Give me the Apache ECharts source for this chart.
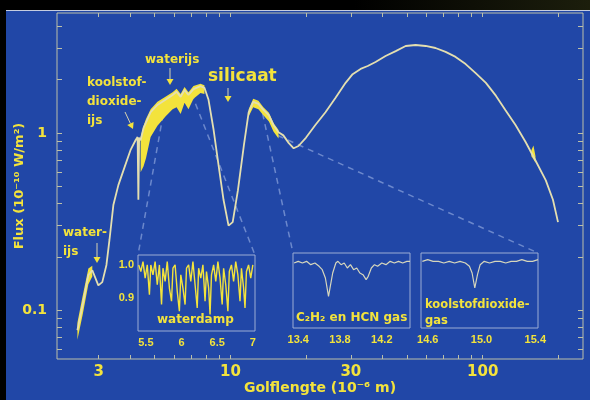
<!DOCTYPE html>
<html>
<head>
<meta charset="utf-8">
<script src="https://cdn.jsdelivr.net/npm/echarts@6/dist/echarts.min.js"></script>
<style>
html, body { margin: 0; padding: 0; background: #000; }
#chart { width: 590px; height: 400px; }
</style>
</head>
<body>
<div id="chart"></div>
<script>
// ---------------------------------------------------------------
// Data
// ---------------------------------------------------------------

// main spectrum: wavelength (micron) and flux (1e-10 W/m2)
var wavelength = [2.47, 2.59, 2.73, 2.83, 2.99, 3.10, 3.22, 3.31, 3.43, 3.59,
  3.80, 4.01, 4.20, 4.28, 4.31, 4.34, 4.40, 4.52, 4.82, 5.13,
  5.52, 5.89, 6.11, 6.34, 6.57, 6.81, 7.13, 7.60, 7.88, 8.18,
  8.57, 8.96, 9.38, 9.82, 10.2, 10.7, 11.3, 11.8, 12.3, 12.9,
  13.5, 14.2, 14.8, 15.5, 16.2, 17.0, 17.8, 18.6, 19.9, 21.7,
  23.8, 26.1, 28.6, 30.5, 32.8, 35.0, 37.6, 41.2, 45.2, 49.5,
  54.2, 59.4, 65.0, 71.3, 78.1, 85.6, 93.8, 103, 113, 123,
  135, 148, 162, 178, 190, 199];
var flux = [0.077, 0.107, 0.158, 0.168, 0.138, 0.144, 0.180, 0.249, 0.392, 0.508,
  0.642, 0.80, 0.91, 0.95, 0.42, 0.94, 0.91, 1.07, 1.31, 1.44,
  1.54, 1.64, 1.71, 1.60, 1.75, 1.64, 1.77, 1.84, 1.80, 1.54,
  1.04, 0.66, 0.42, 0.30, 0.314, 0.476, 0.855, 1.31, 1.50, 1.46,
  1.35, 1.26, 1.11, 1.01, 0.97, 0.88, 0.82, 0.845, 0.94, 1.11,
  1.31, 1.58, 1.92, 2.15, 2.30, 2.39, 2.52, 2.72, 2.90, 3.10,
  3.14, 3.10, 3.02, 2.87, 2.69, 2.45, 2.18, 1.92, 1.62, 1.35,
  1.11, 0.89, 0.70, 0.54, 0.42, 0.314];

// noisy yellow parts of the spectrum (upper / lower edge)
var noiseStartX = [2.47, 2.59, 2.73, 2.83];
var noiseStartHi = [0.085, 0.12, 0.172, 0.178];
var noiseStartLo = [0.068, 0.094, 0.14, 0.155];

var noiseIceX = [4.40, 4.52, 4.62, 4.82, 5.13, 5.52, 5.89, 6.11, 6.34, 6.57, 6.81, 7.13, 7.60, 7.88];
var noiseIceHi = [0.95, 1.10, 1.20, 1.36, 1.50, 1.60, 1.70, 1.78, 1.66, 1.82, 1.70, 1.84, 1.90, 1.86];
var noiseIceLo = [0.60, 0.65, 0.72, 0.95, 1.10, 1.24, 1.36, 1.40, 1.28, 1.48, 1.36, 1.56, 1.68, 1.66];

var noiseSilX = [11.8, 12.3, 12.9, 13.5, 14.2, 14.8, 15.5];
var noiseSilHi = [1.36, 1.56, 1.52, 1.40, 1.30, 1.14, 1.04];
var noiseSilLo = [1.24, 1.40, 1.36, 1.26, 1.16, 1.02, 0.93];

var noiseFarX = [156, 159, 162];
var noiseFarHi = [0.80, 0.85, 0.74];
var noiseFarLo = [0.74, 0.71, 0.68];

// inset 1: water vapour, 5.4 - 7.0 micron
var vapourX = [5.40, 5.43, 5.46, 5.49, 5.52, 5.55, 5.57, 5.60, 5.63, 5.66,
  5.69, 5.72, 5.74, 5.77, 5.80, 5.83, 5.86, 5.88, 5.91, 5.94,
  5.97, 5.99, 6.02, 6.05, 6.07, 6.10, 6.13, 6.16, 6.19, 6.22,
  6.24, 6.27, 6.30, 6.33, 6.35, 6.38, 6.40, 6.42, 6.45, 6.48,
  6.51, 6.54, 6.57, 6.59, 6.62, 6.65, 6.67, 6.70, 6.73, 6.76,
  6.79, 6.82, 6.84, 6.87, 6.89, 6.91, 6.94, 6.97, 7.00];
var vapourY = [1.00, 0.98, 1.01, 0.96, 1.00, 0.91, 1.00, 0.97, 1.01, 0.94,
  1.00, 0.88, 0.99, 0.95, 1.01, 0.93, 0.89, 0.99, 1.00, 0.92,
  0.86, 0.97, 0.93, 0.88, 0.99, 1.00, 0.95, 1.01, 0.94, 0.87,
  0.99, 0.96, 1.00, 0.89, 0.98, 0.93, 0.85, 0.97, 1.00, 0.95,
  1.01, 0.96, 0.88, 0.99, 0.94, 0.86, 0.98, 1.00, 0.95, 1.01,
  0.97, 0.89, 0.99, 0.93, 0.87, 0.98, 1.00, 0.96, 1.00];

// inset 2: C2H2 and HCN gas
var hcnX = [13.36, 13.40, 13.44, 13.48, 13.52, 13.56, 13.60, 13.63, 13.66, 13.69,
  13.71, 13.73, 13.76, 13.78, 13.81, 13.84, 13.87, 13.90, 13.93, 13.96,
  13.99, 14.02, 14.05, 14.07, 14.10, 14.13, 14.16, 14.20, 14.24, 14.28,
  14.32, 14.36, 14.40, 14.44, 14.47];
var hcnY = [0.99, 1.00, 0.99, 1.00, 0.98, 0.99, 0.97, 0.95, 0.90, 0.79,
  0.86, 0.93, 0.99, 1.00, 0.98, 0.99, 0.96, 0.98, 0.95, 0.96,
  0.93, 0.92, 0.89, 0.91, 0.96, 0.98, 0.97, 0.99, 0.98, 1.00,
  0.99, 1.00, 0.99, 1.00, 1.00];

// inset 3: carbon dioxide gas
var co2X = [14.56, 14.60, 14.64, 14.68, 14.72, 14.76, 14.80, 14.84, 14.88, 14.91,
  14.93, 14.95, 14.97, 14.99, 15.02, 15.06, 15.10, 15.14, 15.18, 15.22,
  15.26, 15.30, 15.34, 15.38, 15.42];
var co2Y = [1.00, 1.01, 1.00, 1.00, 0.99, 1.00, 0.99, 1.00, 0.99, 0.97,
  0.93, 0.84, 0.92, 0.98, 1.00, 0.99, 1.00, 1.00, 0.99, 1.00,
  1.00, 1.01, 1.00, 1.00, 1.01];

// tick labels
var mainXLabels = [3, 10, 30, 100];
var mainYLabels = [0.1, 1];
var mainXTicks = [3, 4, 5, 6, 7, 8, 9, 10, 20, 30, 40, 50, 60, 70, 80, 90, 100, 200];
var mainYTicks = [0.06, 0.07, 0.08, 0.09, 0.1, 0.2, 0.3, 0.4, 0.5, 0.6, 0.7, 0.8, 0.9, 1, 2, 3, 4];
var vapourXLabels = [5.5, 6, 6.5, 7];
var vapourYLabels = [0.9, 1.0];
var hcnXLabels = [13.4, 13.8, 14.2];
var co2XLabels = [14.6, 15.0, 15.4];

// where the dashed guide lines leave the main spectrum
var guideFrom = [[5.5, 1.54], [7.0, 1.76], [13.4, 1.36], [15.4, 1.02]];

// ---------------------------------------------------------------
// Styling
// ---------------------------------------------------------------
var yellow = '#f3e33c';
var pale = '#e4dfb0';
var frame = '#bcc0a8';
var boxColor = '#9cadd4';
var blue = '#2147a7';
var font = 'DejaVu Sans';

function pairs(xs, ys) {
  return xs.map(function (x, i) { return [x, ys[i]]; });
}

var bands = [
  { x: noiseStartX, hi: noiseStartHi, lo: noiseStartLo },
  { x: noiseIceX, hi: noiseIceHi, lo: noiseIceLo },
  { x: noiseSilX, hi: noiseSilHi, lo: noiseSilLo },
  { x: noiseFarX, hi: noiseFarHi, lo: noiseFarLo }
];

// inset ranges
var in1 = { xmin: 5.39, xmax: 7.03, ymin: 0.80, ymax: 1.03 };
var in2 = { xmin: 13.35, xmax: 14.47, ymin: 0.6, ymax: 1.05 };
var in3 = { xmin: 14.55, xmax: 15.42, ymin: 0.6, ymax: 1.05 };

var tickLabelStyle = { color: yellow, fontWeight: 'bold', fontFamily: font };
var insetLabel = { color: yellow, fontWeight: 'bold', fontFamily: 'Liberation Sans', fontSize: 11, margin: 6 };

function insetX(grid, r, labels, fmt) {
  return {
    gridIndex: grid, type: 'value', min: r.xmin, max: r.xmax,
    axisLine: { show: false }, axisTick: { show: false }, splitLine: { show: false },
    axisLabel: Object.assign({ customValues: labels, formatter: fmt }, insetLabel)
  };
}
function insetY(grid, r, labels) {
  return {
    gridIndex: grid, type: 'value', min: r.ymin, max: r.ymax,
    axisLine: { show: false }, axisTick: { show: false }, splitLine: { show: false },
    axisLabel: labels ? Object.assign({ customValues: labels, formatter: function (v) { return v.toFixed(1); } }, insetLabel, { margin: 4 }) : { show: false }
  };
}

var chart = echarts.init(document.getElementById('chart'));

var gridBase = { show: true, borderWidth: 1, outerBoundsMode: 'none', containLabel: false };
var option = {
  backgroundColor: blue,
  animation: false,
  grid: [
    Object.assign({ left: 57, top: 13, right: 7, bottom: 41, borderColor: frame }, gridBase),
    Object.assign({ left: 138, top: 255, width: 117, height: 76, borderColor: boxColor }, gridBase),
    Object.assign({ left: 293, top: 253, width: 117, height: 75, borderColor: boxColor }, gridBase),
    Object.assign({ left: 421, top: 253, width: 117, height: 75, borderColor: boxColor }, gridBase)
  ],
  xAxis: [
    {
      gridIndex: 0, type: 'log', min: 2.05, max: 250, position: 'bottom',
      axisLine: { show: false }, splitLine: { show: false },
      axisTick: { inside: true, length: 4, customValues: mainXTicks, lineStyle: { color: frame } },
      axisLabel: Object.assign({ customValues: mainXLabels, fontSize: 15, margin: 6, formatter: function (v) { return String(v); } }, tickLabelStyle),
      name: 'Golflengte (10⁻⁶ m)', nameLocation: 'middle', nameGap: 22, nameMoveOverlap: false,
      nameTextStyle: { color: yellow, fontWeight: 'bold', fontFamily: font, fontSize: 14 }
    },
    {
      gridIndex: 0, type: 'log', min: 2.05, max: 250, position: 'top',
      axisLine: { show: false }, splitLine: { show: false }, axisLabel: { show: false },
      axisTick: { inside: true, length: 4, customValues: mainXTicks, lineStyle: { color: frame } }
    },
    insetX(1, in1, vapourXLabels, function (v) { return String(v); }),
    insetX(2, in2, hcnXLabels, function (v) { return v.toFixed(1); }),
    insetX(3, in3, co2XLabels, function (v) { return v.toFixed(1); })
  ],
  yAxis: [
    {
      gridIndex: 0, type: 'log', min: 0.053, max: 4.76, position: 'left',
      axisLine: { show: false }, splitLine: { show: false },
      axisTick: { inside: true, length: 5, customValues: mainYTicks, lineStyle: { color: frame } },
      axisLabel: Object.assign({ customValues: mainYLabels, fontSize: 14, margin: 10, formatter: function (v) { return String(v); } }, tickLabelStyle),
      name: 'Flux (10⁻¹⁰ W/m²)', nameLocation: 'middle', nameGap: 31, nameRotate: 90, nameMoveOverlap: false,
      nameTextStyle: { color: yellow, fontWeight: 'bold', fontFamily: font, fontSize: 13 }
    },
    {
      gridIndex: 0, type: 'log', min: 0.053, max: 4.76, position: 'right',
      axisLine: { show: false }, splitLine: { show: false }, axisLabel: { show: false },
      axisTick: { inside: true, length: 5, customValues: mainYTicks, lineStyle: { color: frame } }
    },
    insetY(1, in1, vapourYLabels),
    insetY(2, in2, null),
    insetY(3, in3, null)
  ],
  series: [
    {
      type: 'custom', xAxisIndex: 0, yAxisIndex: 0, z: 2, clip: true,
      data: bands.map(function (b, i) { return [b.x[0], b.hi[0], i]; }),
      renderItem: function (params, api) {
        var b = bands[api.value(2)];
        var pts = [];
        for (var i = 0; i < b.x.length; i++) pts.push(api.coord([b.x[i], b.hi[i]]));
        for (var j = b.x.length - 1; j >= 0; j--) pts.push(api.coord([b.x[j], b.lo[j]]));
        return { type: 'polygon', shape: { points: pts }, style: { fill: yellow } };
      }
    },
    {
      type: 'line', xAxisIndex: 0, yAxisIndex: 0, z: 3, showSymbol: false,
      data: pairs(wavelength, flux),
      lineStyle: { color: pale, width: 1.8 }
    },
    {
      type: 'line', xAxisIndex: 2, yAxisIndex: 2, showSymbol: false,
      data: pairs(vapourX, vapourY),
      lineStyle: { color: yellow, width: 1.4 }
    },
    {
      type: 'line', xAxisIndex: 3, yAxisIndex: 3, showSymbol: false,
      data: pairs(hcnX, hcnY),
      lineStyle: { color: '#d6d6bc', width: 1.2 }
    },
    {
      type: 'line', xAxisIndex: 4, yAxisIndex: 4, showSymbol: false,
      data: pairs(co2X, co2Y),
      lineStyle: { color: '#d6d6bc', width: 1.2 }
    }
  ]
};

chart.setOption(option);

// ---------------------------------------------------------------
// Annotations, guide lines and the dark border
// ---------------------------------------------------------------
function text(x, y, str, size) {
  return {
    type: 'text', x: x, y: y, z: 20,
    style: { text: str, fill: yellow, font: 'bold ' + (size || 12) + 'px "' + font + '"', verticalAlign: 'middle', align: 'left' }
  };
}
function arrow(x1, y1, x2, y2) {
  var a = Math.atan2(y2 - y1, x2 - x1), h = 6, w = 3.5;
  var bx = x2 - h * Math.cos(a), by = y2 - h * Math.sin(a);
  return [
    { type: 'line', z: 20, shape: { x1: x1, y1: y1, x2: bx, y2: by }, style: { stroke: '#d8d4b0', lineWidth: 1 } },
    { type: 'polygon', z: 20, shape: { points: [[x2, y2], [bx + w * Math.sin(a), by - w * Math.cos(a)], [bx - w * Math.sin(a), by + w * Math.cos(a)]] }, style: { fill: yellow } }
  ];
}

var corner = [
  chart.convertToPixel({ xAxisIndex: 2, yAxisIndex: 2 }, [in1.xmin, in1.ymax]),
  chart.convertToPixel({ xAxisIndex: 2, yAxisIndex: 2 }, [in1.xmax, in1.ymax]),
  chart.convertToPixel({ xAxisIndex: 3, yAxisIndex: 3 }, [in2.xmin, in2.ymax]),
  chart.convertToPixel({ xAxisIndex: 4, yAxisIndex: 4 }, [in3.xmax, in3.ymax])
];
var guides = guideFrom.map(function (p, i) {
  var s = chart.convertToPixel({ xAxisIndex: 0, yAxisIndex: 0 }, p);
  return {
    type: 'line', z: 1,
    shape: { x1: s[0], y1: s[1] + 4, x2: corner[i][0], y2: corner[i][1] },
    style: { stroke: 'rgba(170,190,235,0.55)', lineWidth: 1.5, lineDash: [6, 5] }
  };
});

var graphics = [
  { type: 'rect', z: 30, shape: { x: 0, y: 0, width: 590, height: 10 },
    style: { fill: new echarts.graphic.LinearGradient(0, 0, 1, 0, [{ offset: 0, color: '#000' }, { offset: 0.6, color: '#000' }, { offset: 1, color: '#1c1e0c' }]) } },
  { type: 'rect', z: 30, shape: { x: 0, y: 0, width: 6, height: 400 }, style: { fill: '#000' } },
  { type: 'line', z: 30, shape: { x1: 6, y1: 10.5, x2: 590, y2: 10.5 }, style: { stroke: '#c6cde0', lineWidth: 1 } },
  text(63, 233, 'water-'),
  text(63, 252, 'ijs'),
  text(87, 83, 'koolstof-'),
  text(87, 102, 'dioxide-'),
  text(87, 121, 'ijs'),
  text(145, 60, 'waterijs'),
  text(208, 77, 'silicaat', 17),
  text(157, 320, 'waterdamp'),
  text(296, 318, 'C₂H₂ en HCN gas'),
  text(425, 305, 'koolstofdioxide-', 11.5),
  text(425, 321, 'gas', 11.5)
].concat(arrow(97, 243, 97, 263), arrow(125, 112, 133, 129), arrow(170, 68, 170, 85), arrow(228, 88, 228, 102), guides);

chart.setOption({ graphic: graphics });
</script>
</body>
</html>
